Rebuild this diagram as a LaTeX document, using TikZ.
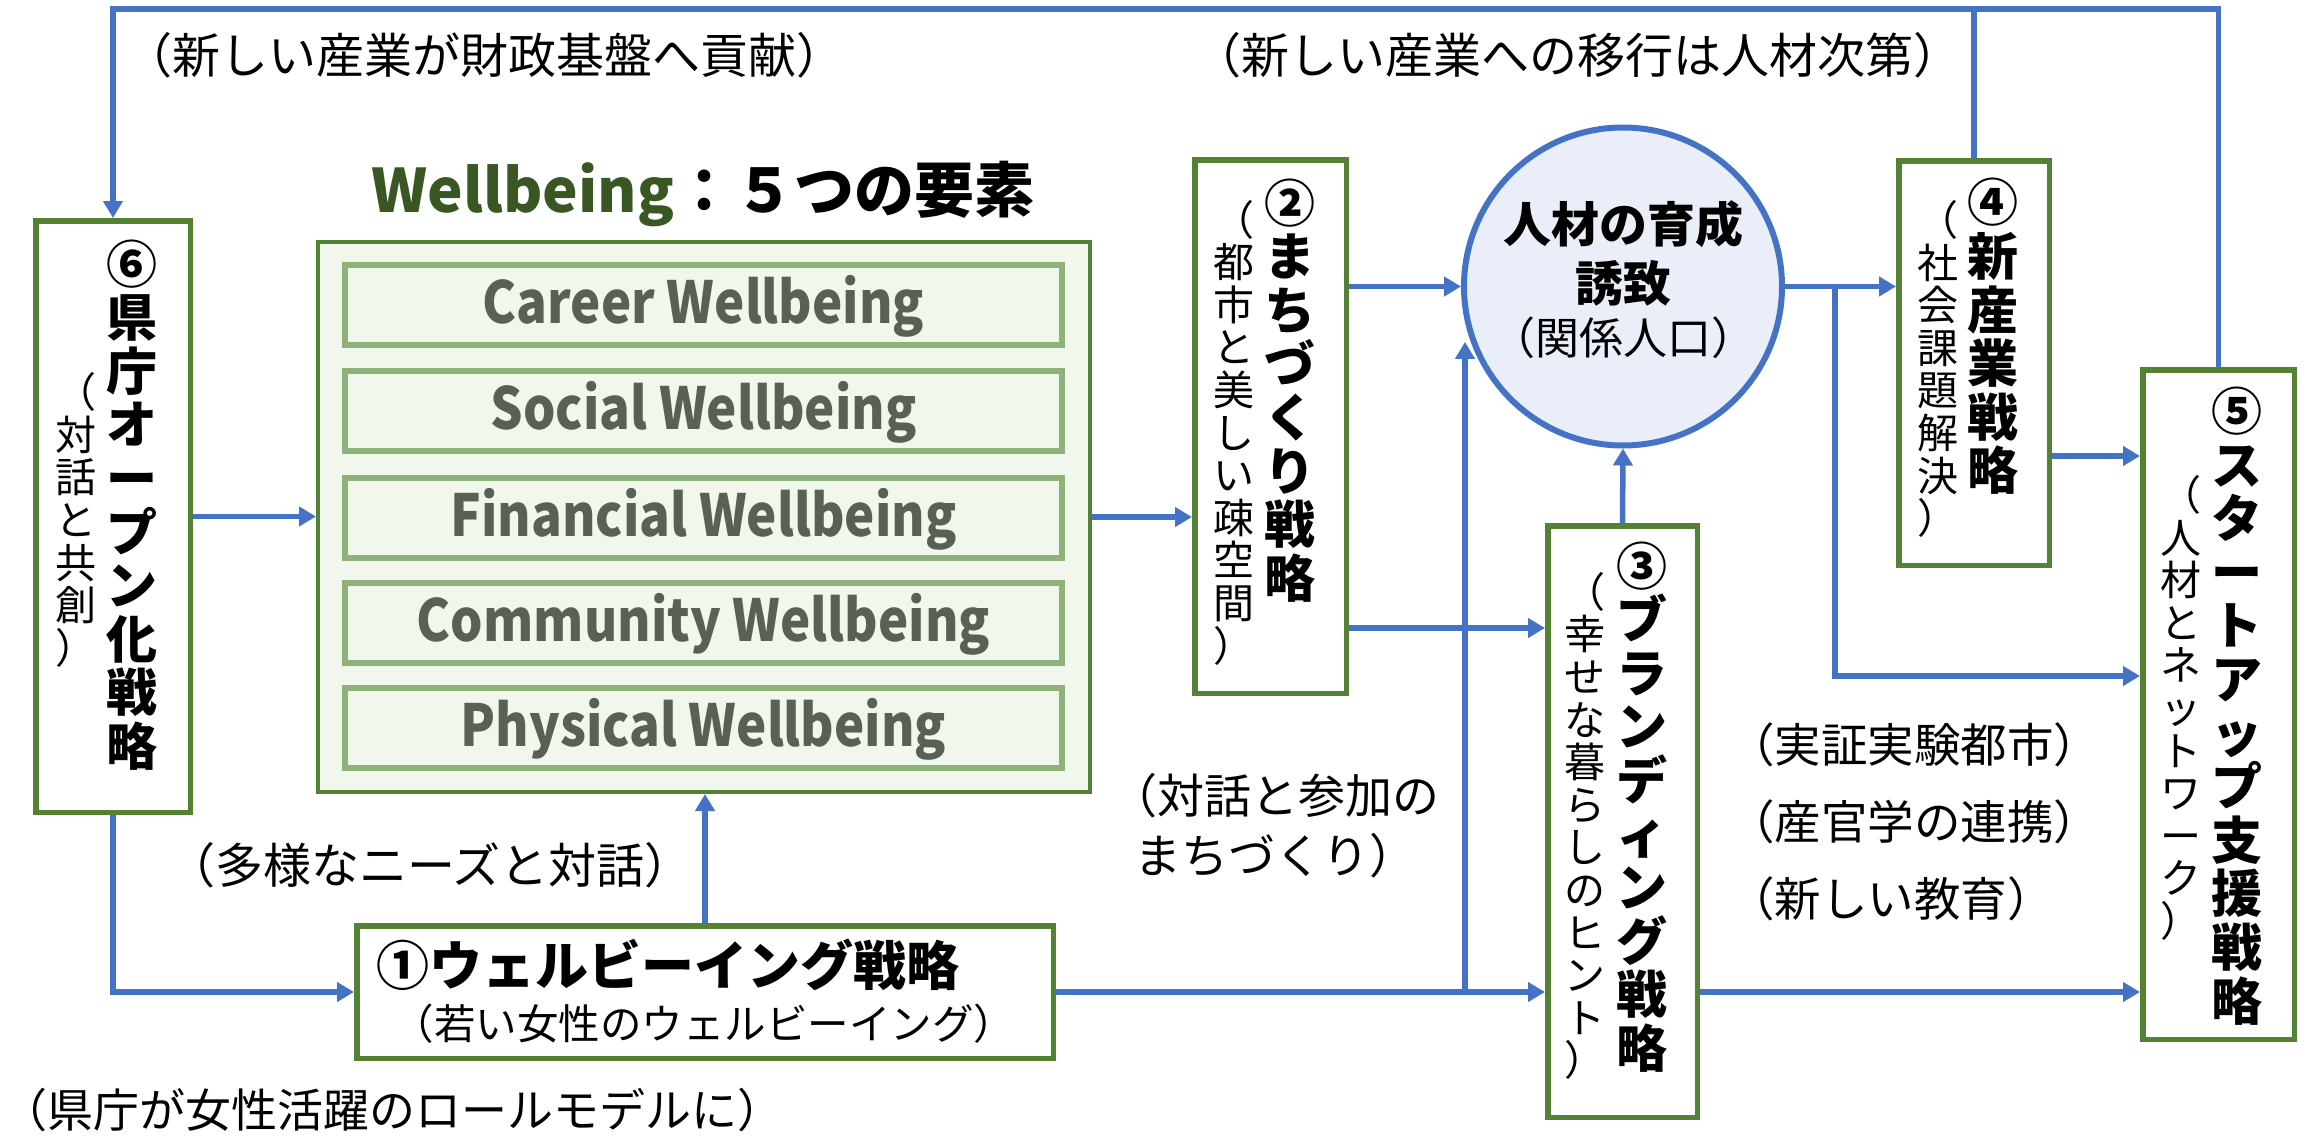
\documentclass[tikz,border=0pt]{standalone}
\usepackage{fontspec}
\usepackage{graphicx}
\setmainfont{Noto Sans CJK JP}
\usetikzlibrary{arrows.meta}
\definecolor{bgreen}{HTML}{548235}
\definecolor{lgreen}{HTML}{8FB17A}
\definecolor{pgreen}{HTML}{F2F7EE}
\definecolor{tgreen}{HTML}{385723}
\definecolor{wtext}{HTML}{596157}
\definecolor{ablue}{HTML}{4472C4}
\definecolor{cfill}{HTML}{E9EEF8}
\lineskiplimit=-100pt
\newcommand{\narrow}[1]{\scalebox{0.88}[1]{#1}}
\begin{document}
\begin{tikzpicture}[x=1pt,y=-1pt,
  sbox/.style={draw=bgreen, line width=5.5pt, fill=white, inner sep=0pt},
  conn/.style={draw=ablue, line width=5.5pt},
  arr/.style={conn, -{Triangle[length=17pt,width=19pt]}},
  lbl/.style={font=\fontsize{48}{60}\selectfont, inner sep=0pt},
  vmain/.style={font=\bfseries\fontsize{51}{53.6}\selectfont, align=center, inner sep=0pt},
  vsub/.style={font=\fontsize{41}{42.6}\selectfont, align=center, inner sep=0pt},
  wrow/.style={draw=lgreen, line width=6pt, fill=pgreen, minimum width=717pt, minimum height=80pt, inner sep=0pt,
    font=\bfseries\fontsize{58}{60}\selectfont, text=wtext, text height=48pt, text depth=12pt},
]
\useasboundingbox (0,0) rectangle (2315,1137);
\fill[white] (0,0) rectangle (2315,1137);

% Wellbeing block
\node[draw=bgreen, line width=4pt, fill=pgreen, minimum width=772pt, minimum height=550pt, inner sep=0pt] (wb) at (704,517) {};
\node[wrow] (r1) at (703.5,305) {\narrow{Career Wellbeing}};
\node[wrow] (r2) at (703.5,411) {\narrow{Social Wellbeing}};
\node[wrow] (r3) at (703.5,518) {\narrow{Financial Wellbeing}};
\node[wrow] (r4) at (703.5,623) {\narrow{Community Wellbeing}};
\node[wrow] (r5) at (703.5,728) {\narrow{Physical Wellbeing}};
\node[font=\bfseries\fontsize{60}{64}\selectfont, inner sep=0pt] (ttl) at (703,194) {\textcolor{tgreen}{Wellbeing}：５つの要素};

% strategy boxes
\node[sbox, minimum width=154.5pt, minimum height=591.5pt] (b6) at (113,516.5) {};
\node[sbox, minimum width=151.5pt, minimum height=533.5pt] (b2) at (1270.5,426.5) {};
\node[sbox, minimum width=149.5pt, minimum height=591.5pt] (b3) at (1622.5,821.5) {};
\node[sbox, minimum width=150.5pt, minimum height=404.5pt] (b4) at (1974,363) {};
\node[sbox, minimum width=151.5pt, minimum height=669.5pt] (b5) at (2218.5,704.5) {};
\node[sbox, minimum width=696.5pt, minimum height=132.5pt] (b1) at (705,992) {};

\node[vmain] (m6) at (132,505) {⑥\\県\\庁\\オ\\ー\\プ\\ン\\化\\戦\\略};
\node[vsub] (s6) at (76,520) {（\\対\\話\\と\\共\\創\\）};
\node[vmain] (m2) at (1290,390.5) {②\\ま\\ち\\づ\\く\\り\\戦\\略};
\node[vsub] (s2) at (1234,432.5) {（\\都\\市\\と\\美\\し\\い\\疎\\空\\間\\）};
\node[vmain] (m3) at (1642,807) {③\\ブ\\ラ\\ン\\デ\\ィ\\ン\\グ\\戦\\略};
\node[vsub] (s3) at (1585,826) {（\\幸\\せ\\な\\暮\\ら\\し\\の\\ヒ\\ン\\ト\\）};
\node[vmain] (m4) at (1993,336.5) {④\\新\\産\\業\\戦\\略};
\node[vsub] (s4) at (1938,369) {（\\社\\会\\課\\題\\解\\決\\）};
\node[vmain] (m5) at (2237,706) {⑤\\ス\\タ\\ー\\ト\\ア\\ッ\\プ\\支\\援\\戦\\略};
\node[vsub] (s5) at (2181,708) {（\\人\\材\\と\\ネ\\ッ\\ト\\ワ\\ー\\ク\\）};

\node[font=\bfseries\fontsize{53}{60}\selectfont, inner sep=0pt] (m1) at (668,965) {①ウェルビーイング戦略};
\node[font=\fontsize{41.5}{50}\selectfont, inner sep=0pt] (s1) at (704,1024) {（若い女性のウェルビーイング）};

% circle
\node[circle, draw=ablue, line width=6pt, fill=cfill, minimum size=318pt, inner sep=0pt] (c) at (1623,286.5) {};
\node[font=\bfseries\fontsize{48}{50}\selectfont, inner sep=0pt] (c1) at (1623,224) {人材の育成};
\node[font=\bfseries\fontsize{48}{50}\selectfont, inner sep=0pt] (c2) at (1623,283) {誘致};
\node[font=\fontsize{44}{50}\selectfont, inner sep=0pt] (c3) at (1623,338) {（関係人口）};

% labels
\node[lbl] (l1) at (484,55) {（新しい産業が財政基盤へ貢献）};
\node[lbl] (l2) at (1577,55) {（新しい産業への移行は人材次第）};
\node[lbl] (l3) at (430,865) {（多様なニーズと対話）};
\node[font=\fontsize{46}{60}\selectfont, inner sep=0pt, anchor=west] (l4) at (1,1110) {（県庁が女性活躍のロールモデルに）};
\node[font=\fontsize{47}{60}\selectfont, inner sep=0pt, align=center] (l5) at (1275,826) {（対話と参加の\\まちづくり）};
\node[font=\fontsize{46.5}{77}\selectfont, inner sep=0pt, align=left, anchor=west] (l6) at (1728,822) {（実証実験都市）\\（産官学の連携）\\（新しい教育）};

% connectors
\coordinate (tl) at (113,9);
\coordinate (j1) at (1465,992);
\coordinate (j2) at (1835,286.5);
\coordinate (r2o) at (1349,628);
\draw[arr] (b5.north) |- (tl) -- (b6.north);
\draw[conn] (b4.north) -- (b4.north |- tl);
\draw[arr] (b6.east) -- (b6.east -| wb.west);
\draw[arr] (b6.south) |- (b1.west);
\draw[arr] (b1.north) -- (b1.north |- wb.south);
\draw[arr] (wb.east) -- (wb.east -| b2.west);
\draw[arr] (b2.east |- c.west) -- (c.west);
\draw[arr] (r2o) -- (r2o -| b3.west);
\draw[arr] (b1.east) -- (b1.east -| b3.west);
\draw[arr] (j1) -- (j1 |- c.200);
\draw[arr] (b3.north) -- (c.south);
\draw[arr] (b3.east |- b1.east) -- (b1.east -| b5.west);
\draw[arr] (c.east) -- (c.east -| b4.west);
\draw[arr] (j2) |- (b5.west |- 0,676);
\draw[arr] (b4.east |- 0,456) -- (b5.west |- 0,456);
\end{tikzpicture}
\end{document}
